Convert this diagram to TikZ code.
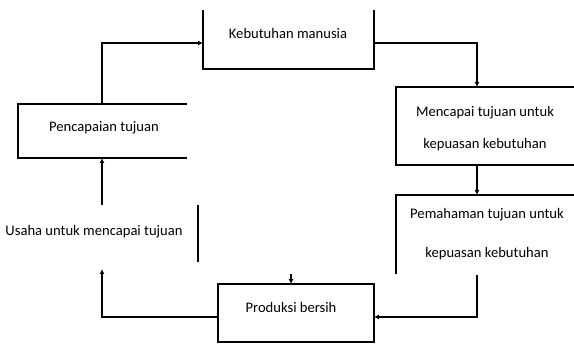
\documentclass[tikz,border=0pt]{standalone}
\usepackage{fontspec}
\setmainfont{Carlito}
\usetikzlibrary{arrows.meta}
\begin{document}
\begin{tikzpicture}[x=1pt,y=-1pt,
  edge/.style={line width=1.3pt},
  conn/.style={line width=1.3pt,-{Latex[length=5pt,width=5pt]}},
  txt/.style={font=\fontsize{14.6}{17}\selectfont, inner sep=0pt}]
\useasboundingbox[fill=white] (0,0) rectangle (574,344);
% box outlines (partial, as printed)
\draw[edge] (203,10) -- (203,69) -- (374,69) -- (374,10);
\draw[edge] (187,104) -- (18,104) -- (18,158) -- (187,158);
\draw[edge] (574,87) -- (396,87) -- (396,165) -- (574,165);
\draw[edge] (574,195) -- (396,195) -- (396,274);
\draw[edge] (218,284) rectangle (374,342);
\draw[edge] (198,205) -- (198,262);
% texts
\node[txt] (keb) at (288,33) {Kebutuhan manusia};
\node[txt] (pen) at (104,128) {Pencapaian tujuan};
\node[txt] (men1) at (485,113) {Mencapai tujuan untuk};
\node[txt] (men2) at (485,145) {kepuasan kebutuhan};
\node[txt] (pem1) at (487,215) {Pemahaman tujuan untuk};
\node[txt] (pem2) at (487,254) {kepuasan kebutuhan};
\node[txt] (pro) at (291,307) {Produksi bersih};
\node[txt] (usa) at (94,232) {Usaha untuk mencapai tujuan};
% connector anchor points
\coordinate (penT) at (102,104);
\coordinate (penB) at (102,158);
\coordinate (kebL) at (203,43);
\coordinate (kebR) at (374,43);
\coordinate (menT) at (477,87);
\coordinate (menB) at (477,165);
\coordinate (pemT) at (477,195);
\coordinate (pemB) at (477,275);
\coordinate (proR) at (374,317);
\coordinate (proL) at (218,317);
\coordinate (usaT) at (102,205);
\coordinate (usaB) at (102,269);
\coordinate (stubA) at (291,274);
\coordinate (stubB) at (291,284);
% connectors
\draw[conn] (penT) |- (kebL);
\draw[conn] (kebR) -| (menT);
\draw[conn] (menB) -- (pemT);
\draw[conn] (pemB) |- (proR);
\draw[conn] (proL) -| (usaB);
\draw[conn] (usaT) -- (penB);
\draw[conn] (stubA) -- (stubB);
\end{tikzpicture}
\end{document}
